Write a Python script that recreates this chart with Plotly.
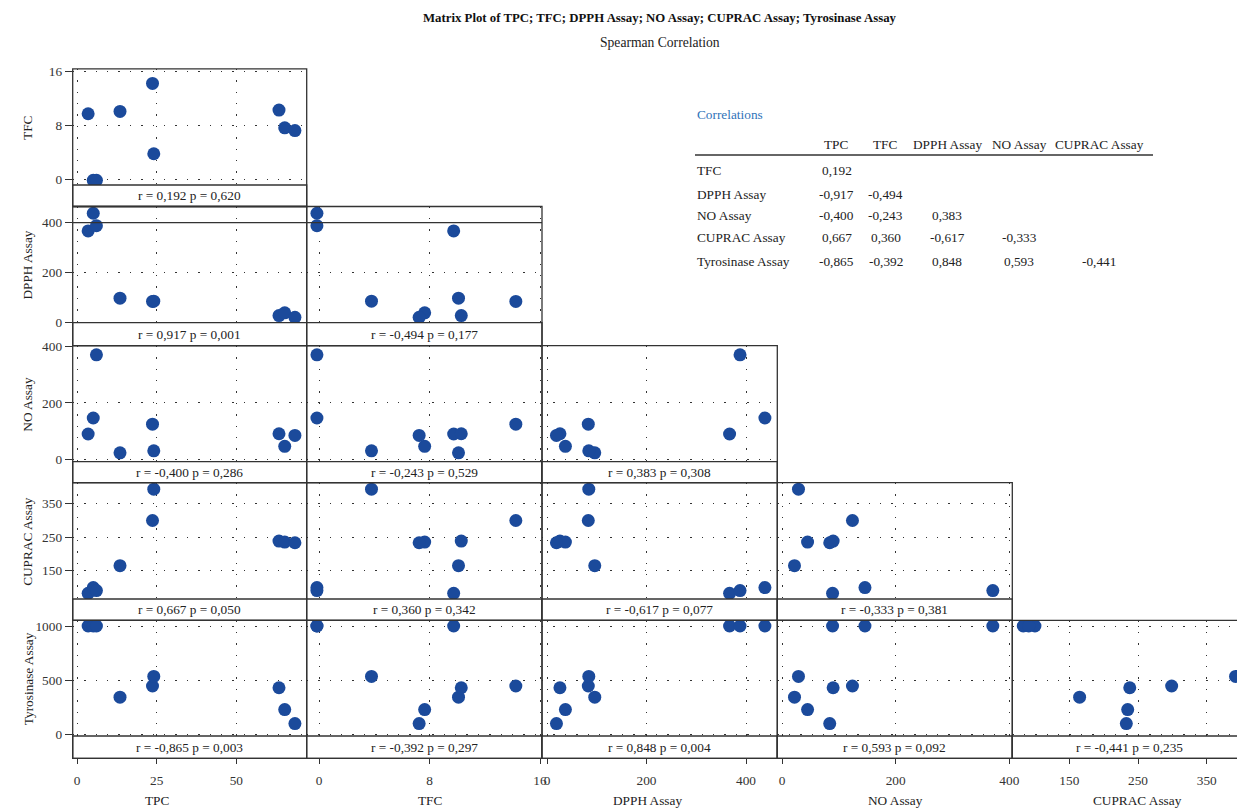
import plotly.graph_objects as go

# ---------------- data ----------------
VARS = ["TPC", "TFC", "DPPH Assay", "NO Assay", "CUPRAC Assay", "Tyrosinase Assay"]
TPC = [3.5, 5.1, 6.1, 13.5, 23.7, 24.1, 63.4, 65.2, 68.4]
TFC = [9.75, -0.15, -0.15, 10.1, 14.25, 3.8, 10.3, 7.65, 7.25]
DPPH = [367, 438, 388, 96, 83, 84, 26, 37, 19]
NO = [89, 146, 371, 22, 124, 29, 90, 45, 84]
CUPRAC = [83, 100, 91, 165, 299, 392, 238, 235, 233]
TYRO = [1000, 1000, 1000, 343, 446, 534, 430, 228, 99]
SERIES = [TPC, TFC, DPPH, NO, CUPRAC, TYRO]

PANEL_R = [["0,192"],
           ["0,917", "-0,494"],
           ["-0,400", "-0,243", "0,383"],
           ["0,667", "0,360", "-0,617", "-0,333"],
           ["-0,865", "-0,392", "0,848", "0,593", "-0,441"]]
PANEL_P = [["0,620"],
           ["0,001", "0,177"],
           ["0,286", "0,529", "0,308"],
           ["0,050", "0,342", "0,077", "0,381"],
           ["0,003", "0,297", "0,004", "0,092", "0,235"]]

TABLE_COLS = ["TPC", "TFC", "DPPH Assay", "NO Assay", "CUPRAC Assay"]
TABLE_ROWS = ["TFC", "DPPH Assay", "NO Assay", "CUPRAC Assay", "Tyrosinase Assay"]
TABLE_VALUES = [["0,192"],
                ["-0,917", "-0,494"],
                ["-0,400", "-0,243", "0,383"],
                ["0,667", "0,360", "-0,617", "-0,333"],
                ["-0,865", "-0,392", "0,848", "0,593", "-0,441"]]

TICKS = {"TPC": [0, 25, 50], "TFC": [0, 8, 16], "DPPH Assay": [0, 200, 400],
         "NO Assay": [0, 200, 400], "CUPRAC Assay": [150, 250, 350],
         "Tyrosinase Assay": [0, 500, 1000]}

# ---------------- layout geometry (pixels) ----------------
W, H = 1237, 809
FONT = "Liberation Serif"
LINE = "#333333"
DOT = "#1b4a9b"
FS = 13.3

def fx(px):
    return px / W

def fy(py):
    return 1 - py / H

col_edges = [72.7, 306.7, 542.0, 777.3, 1012.3, 1237.0]
row_edges = [68.8, 206.5, 345.7, 482.7, 620.3, 758.3]
strip_tops = [185.0, 322.7, 461.7, 599.0, 736.0]
# calibration: (value1, pixel1, value2, pixel2)
xcal = [(0, 77.0, 50, 236.3), (0, 319.0, 16, 540.0), (0, 547.0, 400, 746.0),
        (0, 782.0, 400, 1009.3), (150, 1069.3, 350, 1206.7)]
ycal = [(0, 179.3, 16, 71.7), (0, 322.0, 400, 222.7), (0, 459.0, 400, 346.7),
        (150, 570.7, 350, 503.3), (0, 734.3, 1000, 626.0)]

def val_at(cal, p):
    v1, p1, v2, p2 = cal
    return v1 + (p - p1) * (v2 - v1) / (p2 - p1)

fig = go.Figure()
layout = dict(template="none", width=W, height=H, autosize=False,
              margin=dict(l=0, r=0, t=0, b=0, pad=0),
              paper_bgcolor="white", plot_bgcolor="rgba(0,0,0,0)",
              showlegend=False, font=dict(family=FONT, size=FS, color="#222"))
shapes = []
annotations = []

k = 0
for r in range(5):
    yvar = VARS[r + 1]
    for c in range(r + 1):
        xvar = VARS[c]
        k += 1
        xa = "xaxis" if k == 1 else f"xaxis{k}"
        ya = "yaxis" if k == 1 else f"yaxis{k}"
        xr = "x" if k == 1 else f"x{k}"
        yr = "y" if k == 1 else f"y{k}"
        fig.add_trace(go.Scatter(x=SERIES[c], y=SERIES[r + 1], mode="markers",
                                 xaxis=xr, yaxis=yr,
                                 marker=dict(size=13, color=DOT, line=dict(width=0)),
                                 hoverinfo="x+y"))
        bottom = (r == 4)
        left = (c == 0)
        layout[xa] = dict(domain=[fx(col_edges[c]), fx(col_edges[c + 1])],
                          range=[val_at(xcal[c], col_edges[c]), val_at(xcal[c], col_edges[c + 1])],
                          anchor=yr, tickvals=TICKS[xvar], automargin=False,
                          showticklabels=bottom, ticks="outside" if bottom else "",
                          ticklen=5, tickcolor=LINE, tickwidth=1.2,
                          ticklabelstandoff=5,
                          tickfont=dict(size=FS, color="#333", family=FONT),
                          showgrid=True, gridcolor=LINE, gridwidth=1.4,
                          griddash="1.4px,10px", zeroline=False, showline=False)
        layout[ya] = dict(domain=[fy(row_edges[r + 1]), fy(row_edges[r])],
                          range=[val_at(ycal[r], row_edges[r + 1]), val_at(ycal[r], row_edges[r])],
                          anchor=xr, tickvals=TICKS[yvar], automargin=False,
                          showticklabels=left, ticks="outside" if left else "",
                          ticklen=7, tickcolor=LINE, tickwidth=1.2,
                          tickfont=dict(size=FS, color="#333", family=FONT),
                          showgrid=True, gridcolor=LINE, gridwidth=1.4,
                          griddash="1.4px,10px", zeroline=False, showline=False)
        x0 = fx(col_edges[c])
        x1 = fx(col_edges[c + 1]) if c < 4 else fx(1245)
        # strip (white, covers gridlines)
        shapes.append(dict(type="rect", xref="paper", yref="paper", layer="above",
                           x0=x0, x1=x1, y0=fy(row_edges[r + 1]), y1=fy(strip_tops[r]),
                           fillcolor="white", line=dict(color=LINE, width=1.3)))
        # panel box
        shapes.append(dict(type="rect", xref="paper", yref="paper", layer="above",
                           x0=x0, x1=x1, y0=fy(row_edges[r + 1]), y1=fy(row_edges[r]),
                           line=dict(color=LINE, width=1.3)))
        cx = (col_edges[c] + (col_edges[c + 1] if c < 4 else 1247)) / 2
        annotations.append(dict(xref="paper", yref="paper", x=fx(cx),
                                y=fy((strip_tops[r] + row_edges[r + 1]) / 2),
                                text=f"r = {PANEL_R[r][c]} p = {PANEL_P[r][c]}",
                                showarrow=False, xanchor="center", yanchor="middle",
                                font=dict(size=FS, color="#222", family=FONT)))

# extra solid line in DPPH row
shapes.append(dict(type="line", xref="paper", yref="paper", layer="above",
                   x0=fx(col_edges[0]), x1=fx(col_edges[2]), y0=fy(222.7), y1=fy(222.7),
                   line=dict(color=LINE, width=1.3)))

# y-axis titles
for r in range(5):
    annotations.append(dict(xref="paper", yref="paper", x=fx(28),
                            y=fy((row_edges[r] + strip_tops[r]) / 2),
                            text=VARS[r + 1], textangle=-90, showarrow=False,
                            xanchor="center", yanchor="middle",
                            font=dict(size=FS, color="#222", family=FONT)))
# x-axis titles
xt_pos = [157, 430, 647, 895, 1137]
for c in range(5):
    annotations.append(dict(xref="paper", yref="paper", x=fx(xt_pos[c]), y=fy(800),
                            text=VARS[c], showarrow=False, xanchor="center", yanchor="middle",
                            font=dict(size=FS, color="#222", family=FONT)))

# titles
annotations.append(dict(xref="paper", yref="paper", x=fx(660), y=fy(18),
                        text="<b>Matrix Plot of TPC; TFC; DPPH Assay; NO Assay; CUPRAC Assay; Tyrosinase Assay</b>",
                        showarrow=False, xanchor="center", yanchor="middle",
                        font=dict(size=12.8, color="#111", family=FONT)))
annotations.append(dict(xref="paper", yref="paper", x=fx(660), y=fy(43),
                        text="Spearman Correlation", showarrow=False,
                        xanchor="center", yanchor="middle",
                        font=dict(size=13.6, color="#222", family=FONT)))

# correlation table
annotations.append(dict(xref="paper", yref="paper", x=fx(695), y=fy(115),
                        text="Correlations", showarrow=False, xanchor="left", yanchor="middle",
                        font=dict(size=FS, color="#2f73b9", family=FONT)))
tcol_x = [837, 885.5, 947, 1019, 1099]
trow_y = [170.7, 194, 216, 237.7, 261]
for j, name in enumerate(TABLE_COLS):
    annotations.append(dict(xref="paper", yref="paper", x=fx(tcol_x[j]), y=fy(144),
                            text=name, showarrow=False, xanchor="center", yanchor="middle",
                            font=dict(size=FS, color="#222", family=FONT)))
shapes.append(dict(type="line", xref="paper", yref="paper", x0=fx(695), x1=fx(1153),
                   y0=fy(155), y1=fy(155), line=dict(color="#333", width=1.3)))
for i, name in enumerate(TABLE_ROWS):
    annotations.append(dict(xref="paper", yref="paper", x=fx(695), y=fy(trow_y[i]),
                            text=name, showarrow=False, xanchor="left", yanchor="middle",
                            font=dict(size=FS, color="#222", family=FONT)))
    for j, v in enumerate(TABLE_VALUES[i]):
        annotations.append(dict(xref="paper", yref="paper", x=fx(tcol_x[j]), y=fy(trow_y[i]),
                                text=v, showarrow=False, xanchor="center", yanchor="middle",
                                font=dict(size=FS, color="#222", family=FONT)))

layout["shapes"] = shapes
layout["annotations"] = annotations
fig.update_layout(**layout)
fig.write_html("out.html", config={"displayModeBar": False},
               post_script="document.body.style.margin='0';document.body.style.padding='0';"
                           "document.body.style.overflow='hidden';")
